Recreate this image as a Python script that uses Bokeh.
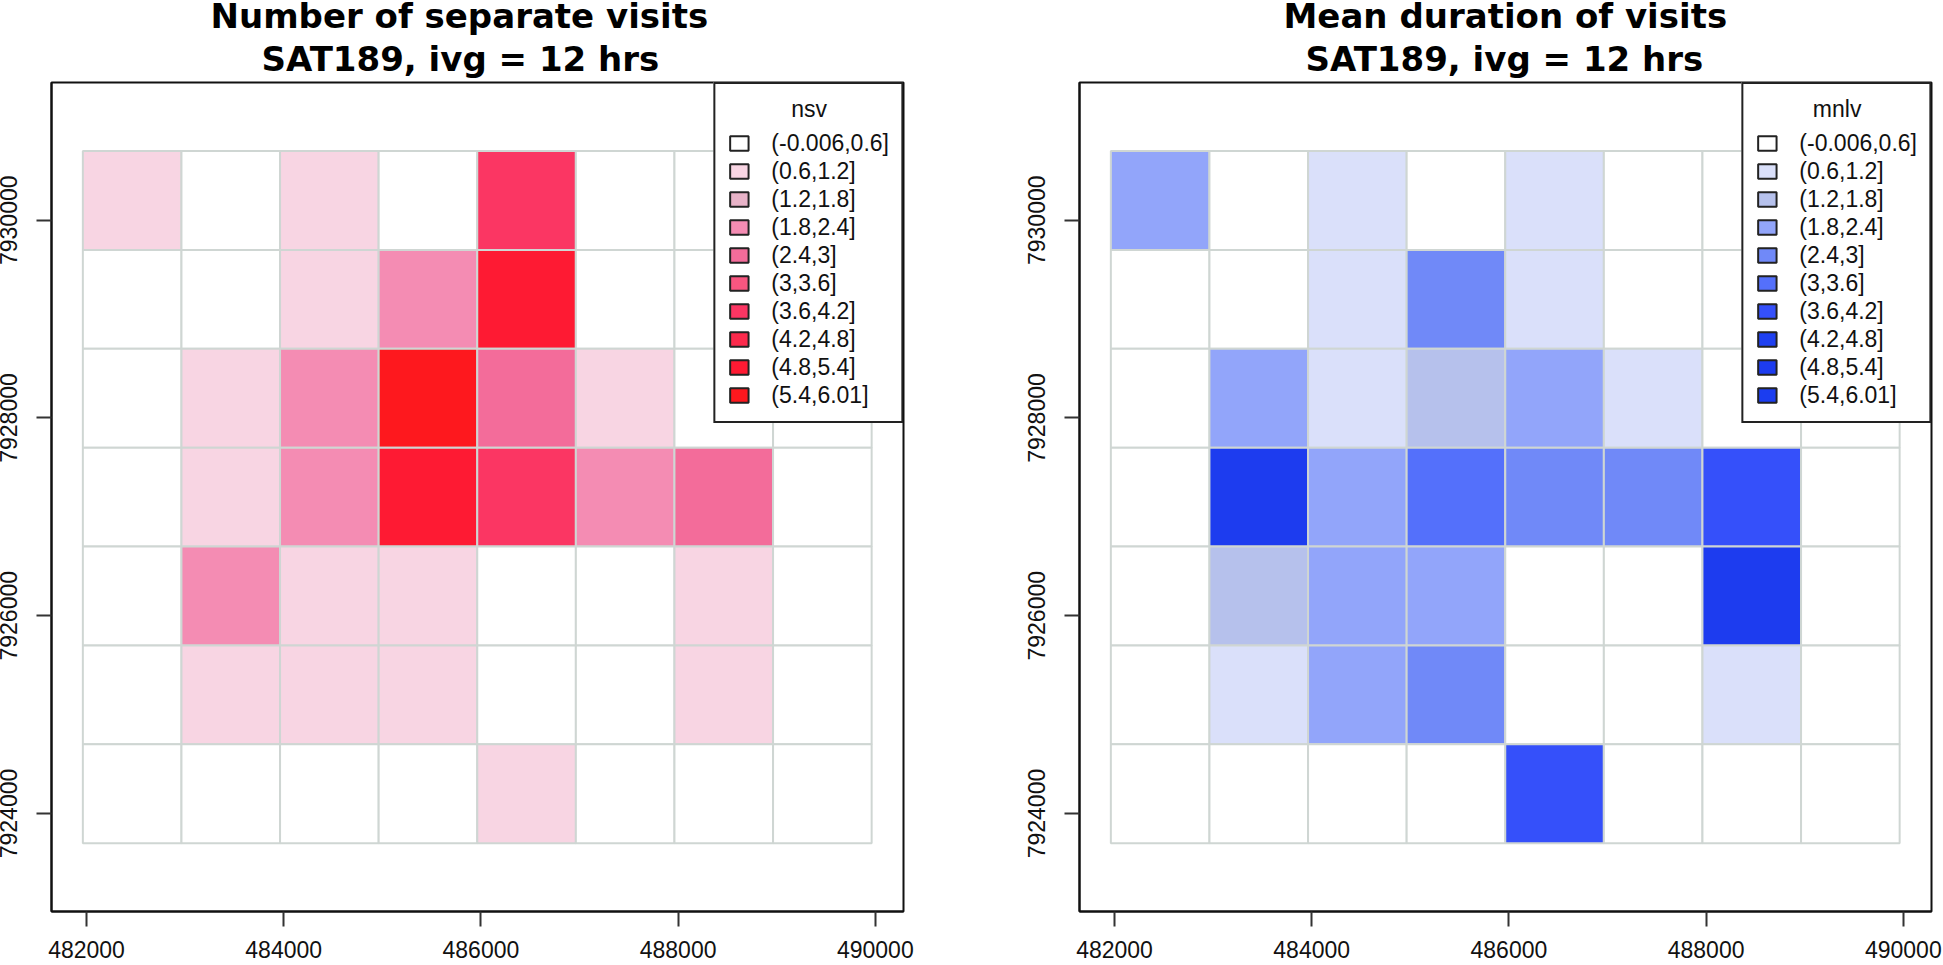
from bokeh.embed import file_html
from bokeh.layouts import row
from bokeh.models import BasicTickFormatter, FixedTicker, Legend, LegendItem, Range1d, Title
from bokeh.plotting import figure
from bokeh.resources import INLINE

# class index of every cell, rows listed from north to south, columns from west to east
nsv_classes = [
    [1, 0, 1, 0, 6, 0, 0, 0],
    [0, 0, 1, 3, 8, 0, 0, 0],
    [0, 1, 3, 9, 4, 1, 0, 0],
    [0, 1, 3, 8, 6, 3, 4, 0],
    [0, 3, 1, 1, 0, 0, 1, 0],
    [0, 1, 1, 1, 0, 0, 1, 0],
    [0, 0, 0, 0, 1, 0, 0, 0],
]
mnlv_classes = [
    [3, 0, 1, 0, 1, 0, 0, 0],
    [0, 0, 1, 4, 1, 0, 0, 0],
    [0, 3, 1, 2, 3, 1, 0, 0],
    [0, 8, 3, 5, 4, 4, 6, 0],
    [0, 2, 3, 3, 0, 0, 8, 0],
    [0, 1, 3, 4, 0, 0, 1, 0],
    [0, 0, 0, 0, 6, 0, 0, 0],
]
class_labels = ["(-0.006,0.6]", "(0.6,1.2]", "(1.2,1.8]", "(1.8,2.4]", "(2.4,3]",
                "(3,3.6]", "(3.6,4.2]", "(4.2,4.8]", "(4.8,5.4]", "(5.4,6.01]"]
reds = ["#FFFFFF", "#F8D5E3", "#E8B3C8", "#F48CB3", "#F36C9A",
        "#F85680", "#FB3663", "#FC2A4C", "#FE1A33", "#FE181E"]
blues = ["#FFFFFF", "#DAE0FA", "#B6C1EC", "#92A5FA", "#7089F8",
         "#5470FB", "#3550FA", "#1F40F0", "#1D3CEF", "#1B3DF0"]
x_ticks = [482000, 484000, 486000, 488000, 490000]
y_ticks = [7924000, 7926000, 7928000, 7930000]
X_ORIGIN, Y_TOP, CELL = 481963, 7930700, 1000
X_RANGE = (481645, 490286)
Y_RANGE = (7923009, 7931393)
FONT = "Liberation Sans"
NAN = float("nan")


def panel(line1, line2, classes, colors, legend_title, title_pad, width, border_left, border_right,
          offsets):
    p = figure(width=width, height=964, frame_width=852, frame_height=829,
               min_border_left=border_left, min_border_right=border_right,
               min_border_top=83, min_border_bottom=52,
               x_range=Range1d(*X_RANGE), y_range=Range1d(*Y_RANGE),
               output_backend="svg", toolbar_location=None, margin=0)
    p.grid.visible = False
    p.outline_line_color = "#111111"
    p.outline_line_width = 2
    p.background_fill_color = "white"

    left, right, top, bottom, fill = [], [], [], [], []
    for r, cells in enumerate(classes):
        for c, k in enumerate(cells):
            left.append(X_ORIGIN + c * CELL)
            right.append(X_ORIGIN + (c + 1) * CELL)
            top.append(Y_TOP - r * CELL)
            bottom.append(Y_TOP - (r + 1) * CELL)
            fill.append(colors[k])
    p.quad(left=left, right=right, top=top, bottom=bottom, fill_color=fill,
           line_color="#CFD6D3", line_width=2)

    items = []
    for label, color in zip(class_labels, colors):
        key = p.quad(left=[NAN], right=[NAN], top=[NAN], bottom=[NAN], fill_color=color,
                     line_color="#222222", line_width=2)
        items.append(LegendItem(label=label, renderers=[key]))
    legend = Legend(items=items, location="top_right", margin=0, padding=12, spacing=0,
                    glyph_width=23, glyph_height=18, label_height=28, label_standoff=21,
                    label_text_font=FONT, label_text_font_size="23px", label_text_color="#111111",
                    title="\u00a0" * title_pad + legend_title, title_text_font=FONT,
                    title_text_font_size="23px", title_text_font_style="normal",
                    title_text_color="#111111", title_standoff=6,
                    border_line_color="#222222", border_line_width=2, border_line_alpha=1,
                    background_fill_color="white", background_fill_alpha=1)
    p.add_layout(legend, "center")

    for axis, ticks in ((p.xaxis[0], x_ticks), (p.yaxis[0], y_ticks)):
        axis.ticker = FixedTicker(ticks=ticks)
        axis.formatter = BasicTickFormatter(use_scientific=False)
        axis.major_tick_out = 15
        axis.major_tick_in = 0
        axis.minor_tick_line_color = None
        axis.major_tick_line_color = "#333333"
        axis.major_tick_line_width = 2
        axis.axis_line_color = "#111111"
        axis.axis_line_width = 2
        axis.major_label_text_font = FONT
        axis.major_label_text_font_size = "23px"
        axis.major_label_text_color = "#111111"
        axis.major_label_standoff = 19
    p.xaxis[0].major_label_standoff = 14
    p.yaxis[0].major_label_orientation = "vertical"

    for text, off, stand in zip((line2, line1), offsets, (8, -6)):
        p.add_layout(Title(text=text, align="left", offset=off, standoff=stand,
                           text_font="DejaVu Sans", text_font_style="bold",
                           text_font_size="34px", text_color="black"), "above")
    return p


p1 = panel("Number of separate visits", "SAT189, ivg = 12 hrs", nsv_classes, reds, "nsv", 10,
           968, 52, 64, (210, 159))
p2 = panel("Mean duration of visits", "SAT189, ivg = 12 hrs", mnlv_classes, blues, "mnlv", 9,
           975, 112, 11, (226, 204))
layout = row(p1, p2, margin=(-4, 0, -12, -3))
open("out.html", "w").write(file_html(layout, INLINE))
